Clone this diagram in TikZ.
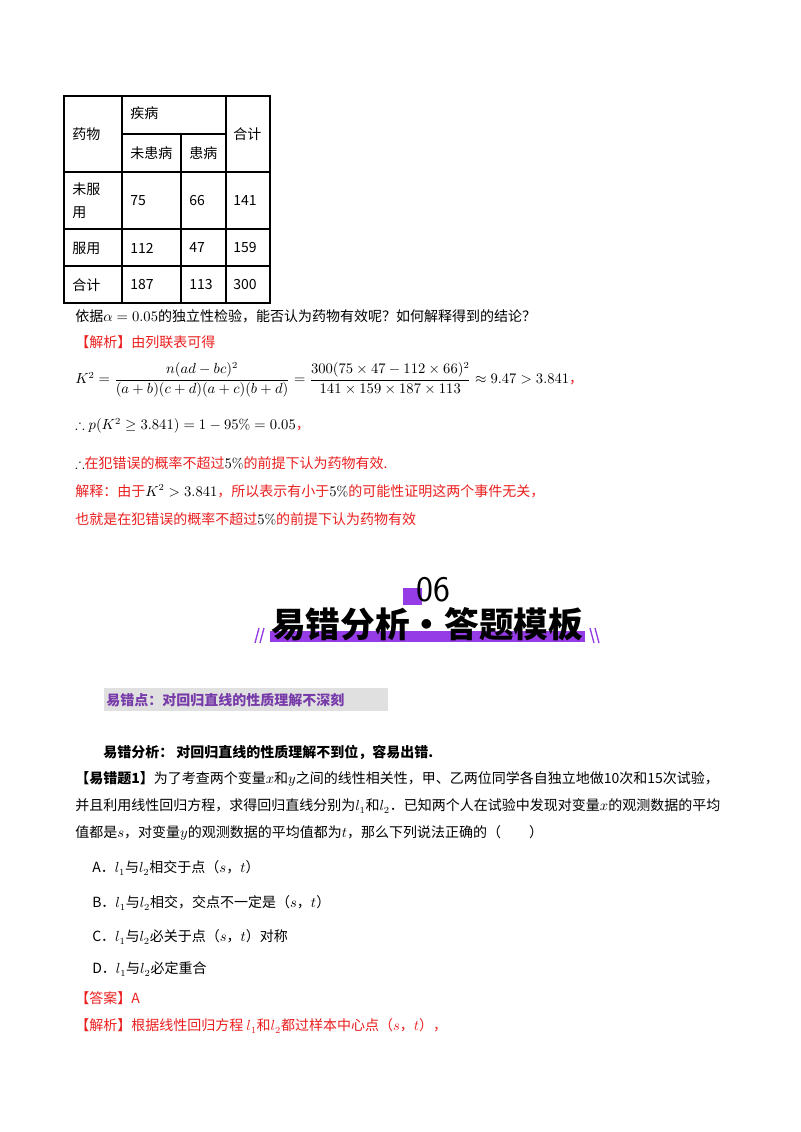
\documentclass[tikz,border=0pt]{standalone}
\usepackage{amsmath,amssymb}
\usepackage{fontspec}
\newfontfamily\cjk{Noto Sans CJK SC}
\definecolor{redt}{RGB}{235,30,30}
\definecolor{purp}{RGB}{150,60,230}
\definecolor{purpt}{RGB}{120,60,170}
\begin{document}
\begin{tikzpicture}[x=0.75pt,y=-0.75pt,
  t/.style={anchor=west,inner sep=0pt,font=\cjk\fontsize{10.5pt}{12pt}\selectfont},
  r/.style={t,text=redt},
  c/.style={inner sep=0pt,font=\cjk\fontsize{10.5pt}{12pt}\selectfont,anchor=west}]
\useasboundingbox (0,0) rectangle (800,1132);
\fill[white] (0,0) rectangle (800,1132);
% table
\draw[line width=0.8pt] (64,96) rectangle (270,303);
\foreach \y in {172,229,266} \draw[line width=0.8pt] (64,\y) -- (270,\y);
\draw[line width=0.8pt] (122,134) -- (226,134);
\draw[line width=0.8pt] (122,96) -- (122,303);
\draw[line width=0.8pt] (226,96) -- (226,303);
\draw[line width=0.8pt] (181,134) -- (181,303);
\node[c] (h1) at (72,134) {药物};
\node[c] (h2) at (130,113) {疾病};
\node[c] (h3) at (233,134) {合计};
\node[c] (h4) at (130,153) {未患病};
\node[c] (h5) at (189,153) {患病};
\node[c] (r1) at (72,189) {未服};
\node[c] (r1b) at (72,213) {用};
\node[c] (a1) at (130,201) {75};
\node[c] (a2) at (189,201) {66};
\node[c] (a3) at (233,201) {141};
\node[c] (r2) at (72,248) {服用};
\node[c] (b1) at (130,248) {112};
\node[c] (b2) at (189,248) {47};
\node[c] (b3) at (233,248) {159};
\node[c] (r3) at (72,285) {合计};
\node[c] (c1) at (130,285) {187};
\node[c] (c2) at (189,285) {113};
\node[c] (c3) at (233,285) {300};
% text
\node[t] (l1) at (75,316) {依据$\alpha=0.05$的独立性检验，能否认为药物有效呢？如何解释得到的结论？};
\node[r] (l2) at (75,342) {【解析】由列联表可得};
\node[t] (l3) at (75,380) {$K^2=\dfrac{n(ad-bc)^2}{(a+b)(c+d)(a+c)(b+d)}=\dfrac{300(75\times47-112\times66)^2}{141\times159\times187\times113}\approx9.47>3.841$\textcolor{redt}{，}};
\node[t] (l4) at (75,426) {$\therefore p(K^2\geq3.841)=1-95\%=0.05$\textcolor{redt}{，}};
\node[r] (l5) at (75,463) {\textcolor{black}{$\therefore$}在犯错误的概率不超过\textcolor{black}{$5\%$}的前提下认为药物有效.};
\node[r] (l6) at (75,491) {解释：由于\textcolor{black}{$K^2>3.841$}，所以表示有小于\textcolor{black}{$5\%$}的可能性证明这两个事件无关，};
\node[r] (l7) at (75,519) {也就是在犯错误的概率不超过\textcolor{black}{$5\%$}的前提下认为药物有效};
% banner
\fill[purp] (403,588) rectangle (422,605);
\node[inner sep=0pt,font=\fontsize{27pt}{28pt}\selectfont\sffamily] (n06) at (433,590) {06};
\fill[purp] (270,631) rectangle (585,642);
\node[inner sep=0pt,font=\cjk\bfseries\fontsize{26pt}{28pt}\selectfont] (ban) at (427,624) {易错分析·答题模板};
\draw[purp,line width=1pt] (255,643) -- (259,628) (260,643) -- (264,628);
\draw[purp,line width=1pt] (590,628) -- (594,643) (595,628) -- (599,643);
% heading
\fill[black!12] (104,688) rectangle (388,711);
\node[t,font=\cjk\bfseries\fontsize{10.5pt}{12pt}\selectfont,text=purpt] (hd) at (106,700) {易错点：对回归直线的性质理解不深刻};
\node[t,font=\cjk\bfseries\fontsize{10.5pt}{12pt}\selectfont] (q0) at (103,752) {易错分析：\ 对回归直线的性质理解不到位，容易出错.};
\node[t] (q1) at (75,779) {\textbf{【易错题1】}为了考查两个变量$x$和$y$之间的线性相关性，甲、乙两位同学各自独立地做10次和15次试验，};
\node[t] (q2) at (75,806) {并且利用线性回归方程，求得回归直线分别为$l_1$和$l_2$．已知两个人在试验中发现对变量$x$的观测数据的平均};
\node[t] (q3) at (75,833) {值都是$s$，对变量$y$的观测数据的平均值都为$t$，那么下列说法正确的（\qquad）};
\node[t] (oa) at (92,868) {A．$l_1$与$l_2$相交于点（$s$，$t$）};
\node[t] (ob) at (92,903) {B．$l_1$与$l_2$相交，交点不一定是（$s$，$t$）};
\node[t] (oc) at (92,937) {C．$l_1$与$l_2$必关于点（$s$，$t$）对称};
\node[t] (od) at (92,969) {D．$l_1$与$l_2$必定重合};
\node[r] (ans) at (75,998) {【答案】A};
\node[r] (ex) at (75,1026) {【解析】根据线性回归方程 $l_1$和$l_2$都过样本中心点（$s$，$t$），};
\end{tikzpicture}
\end{document}
